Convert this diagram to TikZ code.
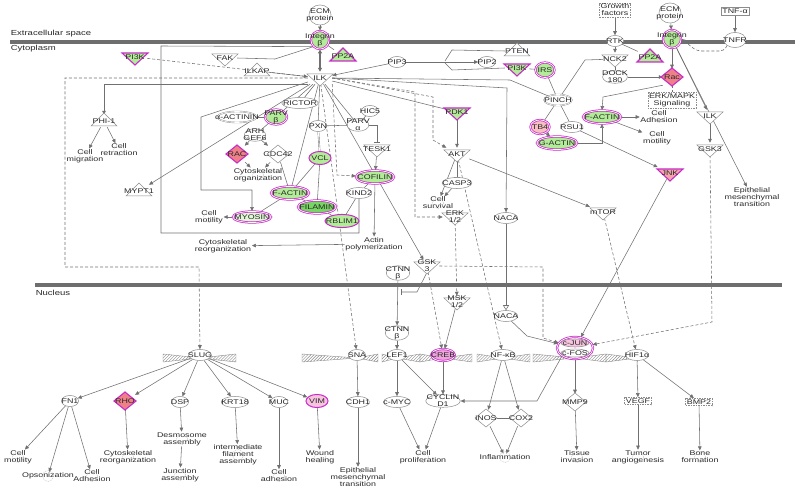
\documentclass[tikz,border=0pt]{standalone}
\usepackage{fontspec}
\setmainfont{Liberation Sans}[FakeStretch=1.3]
\usepackage{xcolor}
\usepackage{tikz}
\usetikzlibrary{shapes.geometric,arrows.meta,patterns}
\definecolor{ipaPurple}{RGB}{200,44,200}
\definecolor{ipaGreen}{RGB}{178,236,152}
\definecolor{ipaGreenDark}{RGB}{120,212,100}
\definecolor{ipaSalmon}{RGB}{240,128,136}
\definecolor{ipaPink}{RGB}{246,196,222}
\definecolor{ipaGray}{RGB}{140,140,140}
\definecolor{ipaLine}{RGB}{112,112,112}
\definecolor{ipaText}{RGB}{40,40,40}
\definecolor{ipaBar}{RGB}{110,110,110}

\pgfdeclarelayer{edges}
\pgfsetlayers{edges,main}

\tikzset{
  lbl/.style={font=\fontsize{6.8}{6.9}\selectfont, text=ipaText, align=center, inner sep=0.6pt},
  region/.style={lbl, font=\fontsize{7.3}{7.5}\selectfont, anchor=west},
  ent/.style={lbl, ellipse, draw=ipaGray, fill=white, line width=0.5pt, inner xsep=-4pt, inner ysep=-1.4pt, minimum width=17, minimum height=11},
  cplx/.style={ent, double=white, double distance=0.6pt, line width=0.4pt},
  hit/.style={ent, draw=ipaPurple, fill=ipaGreen, line width=1pt},
  hitd/.style={hit, double=white, double distance=0.7pt, line width=0.75pt},
  dbox/.style={lbl, rectangle, draw=ipaGray, fill=white, dash pattern=on 1.5pt off 1pt, line width=0.5pt, inner sep=1.2pt},
  sbox/.style={lbl, rectangle, draw=ipaGray, fill=white, line width=0.5pt, inner sep=1.5pt},
  fn/.style={lbl, label={[circle, draw=ipaGray!55, line width=0.4pt, dash pattern=on 1pt off 0.8pt, minimum size=11, inner sep=0]center:}},
  trinode/.style={lbl, minimum width=24, minimum height=12, inner sep=0},
  dianode/.style={lbl, minimum width=18, minimum height=16, inner sep=0},
  tri/.style={draw=ipaGray, fill=white, line width=0.5pt},
  trihit/.style={draw=ipaPurple, fill=ipaGreen, line width=1.1pt},
  trijnk/.style={draw=ipaPurple, fill=ipaSalmon!70, line width=1.1pt},
  diahit/.style={draw=ipaPurple, fill=ipaSalmon, line width=1.1pt},
  dnaband/.style={draw=ipaGray, line width=0.4pt, pattern=north east lines, pattern color=ipaGray},
  link/.style={draw=ipaLine, line width=0.55pt},
  act/.style={link, -{Triangle[length=4pt,width=3.6pt]}},
  dsh/.style={link, dash pattern=on 3pt off 2pt, -{Triangle[length=4pt,width=3.6pt]}},
  dshl/.style={link, dash pattern=on 3pt off 2pt},
  inh/.style={link, -{Bar[width=6pt]}},
  dbl/.style={link, line width=1.1pt, {Triangle[length=4pt,width=4pt]}-{Triangle[length=4pt,width=4pt]}}
}

% kinase (down) / phosphatase (up) triangles, enzyme diamonds
\newcommand{\kinDown}[5]{%
  \filldraw[#5] (#2-13,#3-5) -- (#2+13,#3-5) -- (#2,#3+7) -- cycle;
  \node[trinode] (#1) at (#2,#3-1) {#4};}
\newcommand{\kinUp}[5]{%
  \filldraw[#5] (#2-13,#3+6) -- (#2+13,#3+6) -- (#2,#3-7) -- cycle;
  \node[trinode] (#1) at (#2,#3+1) {#4};}
\newcommand{\enzDia}[5]{%
  \filldraw[#5] (#2-11,#3) -- (#2,#3-9) -- (#2+11,#3) -- (#2,#3+9) -- cycle;
  \node[dianode] (#1) at (#2,#3) {#4};}
\newcommand{\dnaBand}[4]{%
  \draw[dnaband] (#1,#4-4) -- (#2,#4) -- (#1,#4+4) -- cycle;
  \draw[dnaband] (#3,#4-4) -- (#2,#4) -- (#3,#4+4) -- cycle;}

\begin{document}
\begin{tikzpicture}[x=0.035cm,y=-0.035cm]
\useasboundingbox (0,0) rectangle (800,488);

%
\begin{pgfonlayer}{edges}
\fill[ipaBar] (10,40) rectangle (795,44);
\fill[ipaBar] (35,283) rectangle (782,287);
\end{pgfonlayer}
\node[region] (lblExtra) at (10,34) {Extracellular space};
\node[region] (lblCyto) at (10,49) {Cytoplasm};
\node[region] (lblNuc) at (35,293) {Nucleus};

%
\dnaBand{163}{200}{236}{358}
\dnaBand{302}{357}{378}{358}
\dnaBand{382}{397}{420}{358}
\dnaBand{420}{443}{472}{358}
\dnaBand{477}{503}{530}{358}
\dnaBand{533}{575}{606}{358}
\dnaBand{606}{637}{637}{358}

%
\node[ent, inner xsep=-7pt, minimum width=22, minimum height=20] (ecmL) at (320,15) {ECM\\protein};
\node[hitd, inner xsep=-9pt, minimum width=18, minimum height=18] (intL) at (320,40) {Integrin\\β};
\kinUp{ppL}{343}{55}{PP2A}{trihit}
\kinDown{ilk}{320}{79}{ILK}{tri}
\kinDown{fak}{225}{59}{FAK}{tri}
\kinUp{ilkap}{257}{70}{ILKAP}{tri}
\kinDown{pikL}{135}{58}{PI3K}{trihit}
\kinUp{phi}{104}{120}{PHI-1}{tri}
\kinUp{mypt}{139}{190}{MYPT1}{tri}
\node[fn] (cmig) at (85,156) {Cell\\migration};
\node[fn] (cretr) at (119,150) {Cell\\retraction};

%
\node[ent] (rictor) at (300,103) {RICTOR};
\node[cplx, inner xsep=-8pt] (actinin) at (237,117) {α-ACTININ};
\node[hitd, minimum width=22, minimum height=15] (parvb) at (276,117) {PARV\\β};
\node[ent] (pxn) at (318,126) {PXN};
\node[ent] (hic5) at (370,111) {HIC5};
\node[ent] (parva) at (358,125) {PARV\\α};
\kinDown{tesk}{377}{150}{TESK1}{tri}
\node[ent] (arh) at (255,135) {ARH\\GEF6};
\enzDia{racL}{237}{154}{RAC}{diahit}
\enzDia{cdc}{278}{154}{CDC42}{tri}
\node[hit, minimum width=22, minimum height=13] (vcl) at (320,158) {VCL};
\node[fn] (cytoorg) at (258,175) {Cytoskeletal\\organization};
\node[hitd, minimum height=13] (factL) at (290,193) {F-ACTIN};
\node[hitd, fill=ipaGreen!40] (myo) at (252,217) {MYOSIN};
\node[hitd, fill=ipaGreenDark, minimum height=13] (fil) at (317,207) {FILAMIN};
\node[hit, minimum height=13] (rbl) at (342,221) {RBLIM1};
\node[ent] (kind) at (359,193) {KIND2};
\node[hitd, minimum height=13] (cof) at (375,177) {COFILIN};
\node[fn] (cmotL) at (209,217) {Cell\\motility};
\node[fn] (creorg) at (223,246) {Cytoskeletal\\reorganization};
\node[fn] (actpol) at (374,244) {Actin\\polymerization};

%
\node[ent] (pip3) at (397,62) {PIP3};
\node[ent] (pip2) at (487,62) {PIP2};
\kinUp{pten}{517}{50}{PTEN}{tri}
\kinDown{pikR}{517}{69}{PI3K}{trihit}
\node[hitd, minimum width=19, minimum height=15] (irs) at (545,70) {IRS};
\node[cplx] (pinch) at (558,100) {PINCH};
\node[hitd, fill=ipaSalmon!50, minimum width=19, minimum height=14] (tb4) at (540,127) {TB4};
\node[ent] (rsu) at (572,127) {RSU1};
\node[hitd, minimum height=13] (gact) at (557,143) {G-ACTIN};
\node[hitd, minimum height=13] (factR) at (602,117) {F-ACTIN};
\kinDown{pdk}{457}{113}{PDK1}{trihit}
\kinDown{akt}{457}{155}{AKT}{tri}
\node[ent] (casp) at (457,183) {CASP3};
\node[fn] (csurv) at (438,203) {Cell\\survival};
\kinDown{erk}{455}{218}{ERK\\1/2}{tri}
\node[ent] (nacaC) at (506,218) {NACA};
\kinDown{mtor}{603}{213}{mTOR}{tri}
\node[ent] (ctnnC) at (398,273) {CTNN\\β};
\kinDown{gskL}{427}{267}{GSK\\3}{tri}
\kinDown{msk}{457}{303}{MSK\\1/2}{tri}
\node[ent] (nacaN) at (506,316) {NACA};

%
\node[dbox] (gf) at (615,10) {Growth\\factors};
\node[ent] (rtk) at (615,41) {RTK};
\node[ent, inner xsep=-7pt, minimum width=22, minimum height=20] (ecmR) at (670,13) {ECM\\protein};
\node[hitd, inner xsep=-9pt, minimum width=18, minimum height=18] (intR) at (672,39) {Integrin\\β};
\node[sbox] (tnfa) at (735,11) {TNF-α};
\node[ent, minimum width=20, minimum height=15] (tnfr) at (735,40) {TNFR};
\kinUp{ppR}{650}{56}{PP2A}{trihit}
\kinDown{nck}{615}{60}{NCK2}{tri}
\node[ent] (dock) at (615,77) {DOCK\\180};
\enzDia{rac}{672}{77}{Rac}{diahit}
\node[dbox] (erkmap) at (672,100) {ERK/MAPK\\Signaling};
\node[fn] (cadhR) at (659,117) {Cell\\Adhesion};
\node[fn] (cmotR) at (657,138) {Cell\\motility};
\kinDown{ilkR}{710}{117}{ILK}{tri}
\kinDown{gskR}{710}{150}{GSK3}{tri}
\node[fn] (emtR) at (752,197) {Epithelial\\mesenchymal\\transition};
\kinDown{jnk}{670}{174}{JNK}{trijnk}

%
\node[ent] (slug) at (200,355) {SLUG};
\node[ent] (sna) at (357,355) {SNA};
\node[ent] (ctnnN) at (397,333) {CTNN\\β};
\node[ent] (lef) at (397,355) {LEF1};
\node[hitd, fill=ipaPink!80!ipaPurple, minimum height=12] (creb) at (443,355) {CREB};
\node[ent] (nfkb) at (503,355) {NF-κB};
\node[hitd, fill=white, minimum width=36, minimum height=22, inner sep=0] (cjun) at (575,348) {};
\node[ent, fill=ipaPink, minimum width=28, minimum height=8] (cjunA) at (575,343) {c-JUN};
\node[ent, minimum width=28, minimum height=8] (cfos) at (575,353) {c-FOS};
\node[ent] (hif) at (637,355) {HIF1α};

%
\node[ent] (fn1) at (70,401) {FN1};
\enzDia{rho}{125}{401}{RHO}{diahit}
\node[ent] (dsp) at (180,402) {DSP};
\node[ent] (krt) at (235,402) {KRT18};
\node[ent] (muc) at (279,402) {MUC};
\node[hit, fill=ipaPink, minimum width=22, minimum height=13] (vim) at (317,401) {VIM};
\node[ent] (cdh) at (358,402) {CDH1};
\node[ent] (cmyc) at (397,402) {c-MYC};
\node[ent] (cyc) at (443,401) {CYCLIN\\D1};
\enzDia{inos}{486}{418}{iNOS}{tri}
\enzDia{cox}{521}{418}{COX2}{tri}
\enzDia{mmp}{575}{402}{MMP9}{tri}
\node[dbox] (vegf) at (638,401) {VEGF};
\node[dbox] (bmp) at (699,402) {BMP2};

%
\node[fn] (cmotB) at (18,457) {Cell\\motility};
\node[fn] (opso) at (48,476) {Opsonization};
\node[fn] (cadhB) at (92,476) {Cell\\Adhesion};
\node[fn] (creorgB) at (128,457) {Cytoskeletal\\reorganization};
\node[fn] (desmo) at (182,439) {Desmosome\\assembly};
\node[fn] (junc) at (180,475) {Junction\\assembly};
\node[fn] (ifil) at (238,455) {intermediate\\filament\\assembly};
\node[fn] (cadhM) at (279,476) {Cell\\adhesion};
\node[fn] (wound) at (320,457) {Wound\\healing};
\node[fn] (emtB) at (358,477) {Epithelial\\mesenchymal\\transition};
\node[fn] (cprol) at (423,457) {Cell\\proliferation};
\node[fn] (inflam) at (505,457) {Inflammation};
\node[fn] (tissue) at (577,457) {Tissue\\invasion};
\node[fn] (tumor) at (638,457) {Tumor\\angiogenesis};
\node[fn] (bone) at (700,457) {Bone\\formation};

%
\begin{pgfonlayer}{edges}
% membrane, left
\draw[act] (ecmL) -- (intL);
\draw[dbl] (intL) -- (ilk);
\draw[link] (intL) -- (ppL);
\draw[link] (fak.east) -- (275,59) -- (intL.south west);
\draw[link] (ilkap) -- (ilk);
\draw[dsh] (pikL) -- (ilk);
\draw[act] (pip3) -- (ilk);
\draw[act] (ilk.south west) -| (phi);
\draw[act] (phi) -- (cmig);
\draw[act] (phi) -- (cretr);
\draw[act] (ilk) -- (mypt);
\draw[act] (ilk) -- (201,117) -- (201,190) -| (myo);
\draw[dsh] (ilk.west) -| (65,267) -- (199,267) -- (slug);
\draw[link] (intL.south west) -- (161,46) -- (161,233) -| (kind);
% ILK partners
\draw[link] (ilk) -- (rictor);
\draw[link] (ilk) -- (parvb);
\draw[link] (ilk) -- (pxn);
\draw[link] (ilk) -- (parva);
\draw[link] (ilk) -- (factL);
\draw[link] (actinin) -- (parvb);
\draw[link] (parvb) -- (arh);
\draw[act] (arh) -- (racL);
\draw[act] (arh) -- (cdc);
\draw[act] (racL) -- (cytoorg);
\draw[act] (cdc) -- (cytoorg);
\draw[link] (pxn) -- (parva);
\draw[link] (hic5) -- (parva);
\draw[link, double=white, double distance=0.8pt, line width=0.4pt] (pxn) -- (vcl);
\draw[inh] (parva.east) -| (tesk);
\draw[act] (tesk) -- (cof);
\draw[act] (cof) -- (actpol);
\draw[act] (actpol) -- (creorg);
\draw[link] (vcl) -- (factL);
\draw[link] (vcl) -- (fil);
\draw[link] (cdc) -- (factL);
\draw[link] (factL) -- (myo);
\draw[act] (myo) -- (cmotL);
\draw[link] (factL) -- (fil);
\draw[link] (fil) -- (rbl);
\draw[link] (rbl) -- (kind);
\draw[link] (kind) -- (cof);
\draw[dsh] (ilk.south east) -- (337,175) -- (cof);
\draw[dsh] (ilk) -- (sna);
\draw[act] (ilk) -- (gskL);
% ILK to the right
\draw[link] (ilk.east) -- (510,80) -- (pinch);
\draw[link] (ilk) -- (pdk);
\draw[act] (ilk.east) -- (507,88) -- (nacaC);
\draw[dsh] (ilk.east) -- (433,97) -- (433,140) -- (akt);
\draw[dsh] (ilk.east) -- (415,92) -- (415,217) -- (erk);
\draw[act] (pdk) -- (akt);
\draw[inh] (akt) -- (casp);
\draw[act] (akt) -- (csurv);
\draw[act] (casp) -- (csurv);
\draw[act] (akt) -- (mtor);
\draw[dsh] (akt) -- (nfkb);
\draw[dsh] (erk) -- (msk);
\draw[act] (msk) -- (creb);
\draw[dsh] (gskL) -- (creb);
\draw[dsh] (gskL.east) -- (543,267) -- (543,338) -- (cjun);
\draw[inh] (gskL.south) -- (417,292) -- (401,292);
\draw[act] (ctnnC) -- (ctnnN);
\draw[act] (ctnnN) -- (lef);
\draw[link, -{Triangle[open,length=5pt,width=6pt]}] (nacaC) -- (nacaN);
\draw[act] (nacaN) -- (527,336) -- (cjun);
\draw[act] (jnk) -- (cjun);
\draw[dsh] (gskR) -- (712,322) -- (cjun);
\draw[dsh] (mtor) -- (hif);
% PIP cycle, PINCH
\draw[act] (pip3) -- (pip2);
\draw[link] (pten.west) -- (452,50) -- (445,61);
\draw[link] (pikR.west) -- (452,70) -- (445,63);
\draw[link] (pikR) -- (irs);
\draw[link] (pinch) -- (585,60) -- (nck);
\draw[link] (pinch) -- (irs);
\draw[link] (pinch) -- (rsu);
\draw[link] (pinch) -- (tb4);
\draw[act] (tb4) -- (gact);
\draw[act] (rsu) -- (jnk);
\draw[act] (gact.east) -| (factR.south);
\draw[act] (rac.south west) -- (603,97) -- (factR.north);
\draw[act] (factR) -- (cadhR);
\draw[act] (factR) -- (cmotR);
% membrane, right
\draw[act] (gf) -- (rtk);
\draw[act] (rtk) -- (nck);
\draw[link] (rtk) -- (ppR);
\draw[link] (nck) -- (dock);
\draw[act] (dock) -- (rac);
\draw[act] (ecmR) -- (intR);
\draw[act] (intR) -- (rac);
\draw[act] (tnfa) -- (tnfr);
\draw[dsh, rounded corners=4pt] (tnfr.south west) -- (724,51) -- (697,51) -- (intR.east);
\draw[dshl] (rac) -- (erkmap);
\draw[act] (intR) -- (ilkR);
\draw[act] (intR) -- (emtR);
\draw[act] (ilkR) -- (gskR);
% nucleus
\draw[act] (slug) -- (fn1);
\draw[act] (slug) -- (rho);
\draw[act] (slug) -- (dsp);
\draw[act] (slug) -- (krt);
\draw[act] (slug) -- (muc);
\draw[act] (slug) -- (vim);
\draw[act] (fn1) -- (cmotB);
\draw[act] (fn1) -- (opso);
\draw[act] (fn1) -- (cadhB);
\draw[act] (rho) -- (creorgB);
\draw[act] (dsp) -- (desmo);
\draw[act] (desmo) -- (junc);
\draw[act] (krt) -- (ifil);
\draw[act] (muc) -- (cadhM);
\draw[act] (vim) -- (wound);
\draw[act] (sna) -- (cdh);
\draw[act] (cdh) -- (emtB);
\draw[act] (lef) -- (cmyc);
\draw[act] (lef) -- (cyc);
\draw[act] (creb) -- (cyc);
\draw[act] (cjun.south west) -- (537,401) -- (cyc);
\draw[act] (cmyc) -- (cprol);
\draw[act] (cyc) -- (cprol);
\draw[act] (nfkb) -- (inos);
\draw[act] (nfkb) -- (cox);
\draw[link] (inos) -- (cox);
\draw[act] (inos) -- (inflam);
\draw[act] (cox) -- (inflam);
\draw[act] (cjun) -- (mmp);
\draw[act] (mmp) -- (tissue);
\draw[act] (hif) -- (vegf);
\draw[act] (vegf) -- (tumor);
\draw[act] (hif) -- (bmp);
\draw[act] (bmp) -- (bone);
\end{pgfonlayer}

\end{tikzpicture}
\end{document}
